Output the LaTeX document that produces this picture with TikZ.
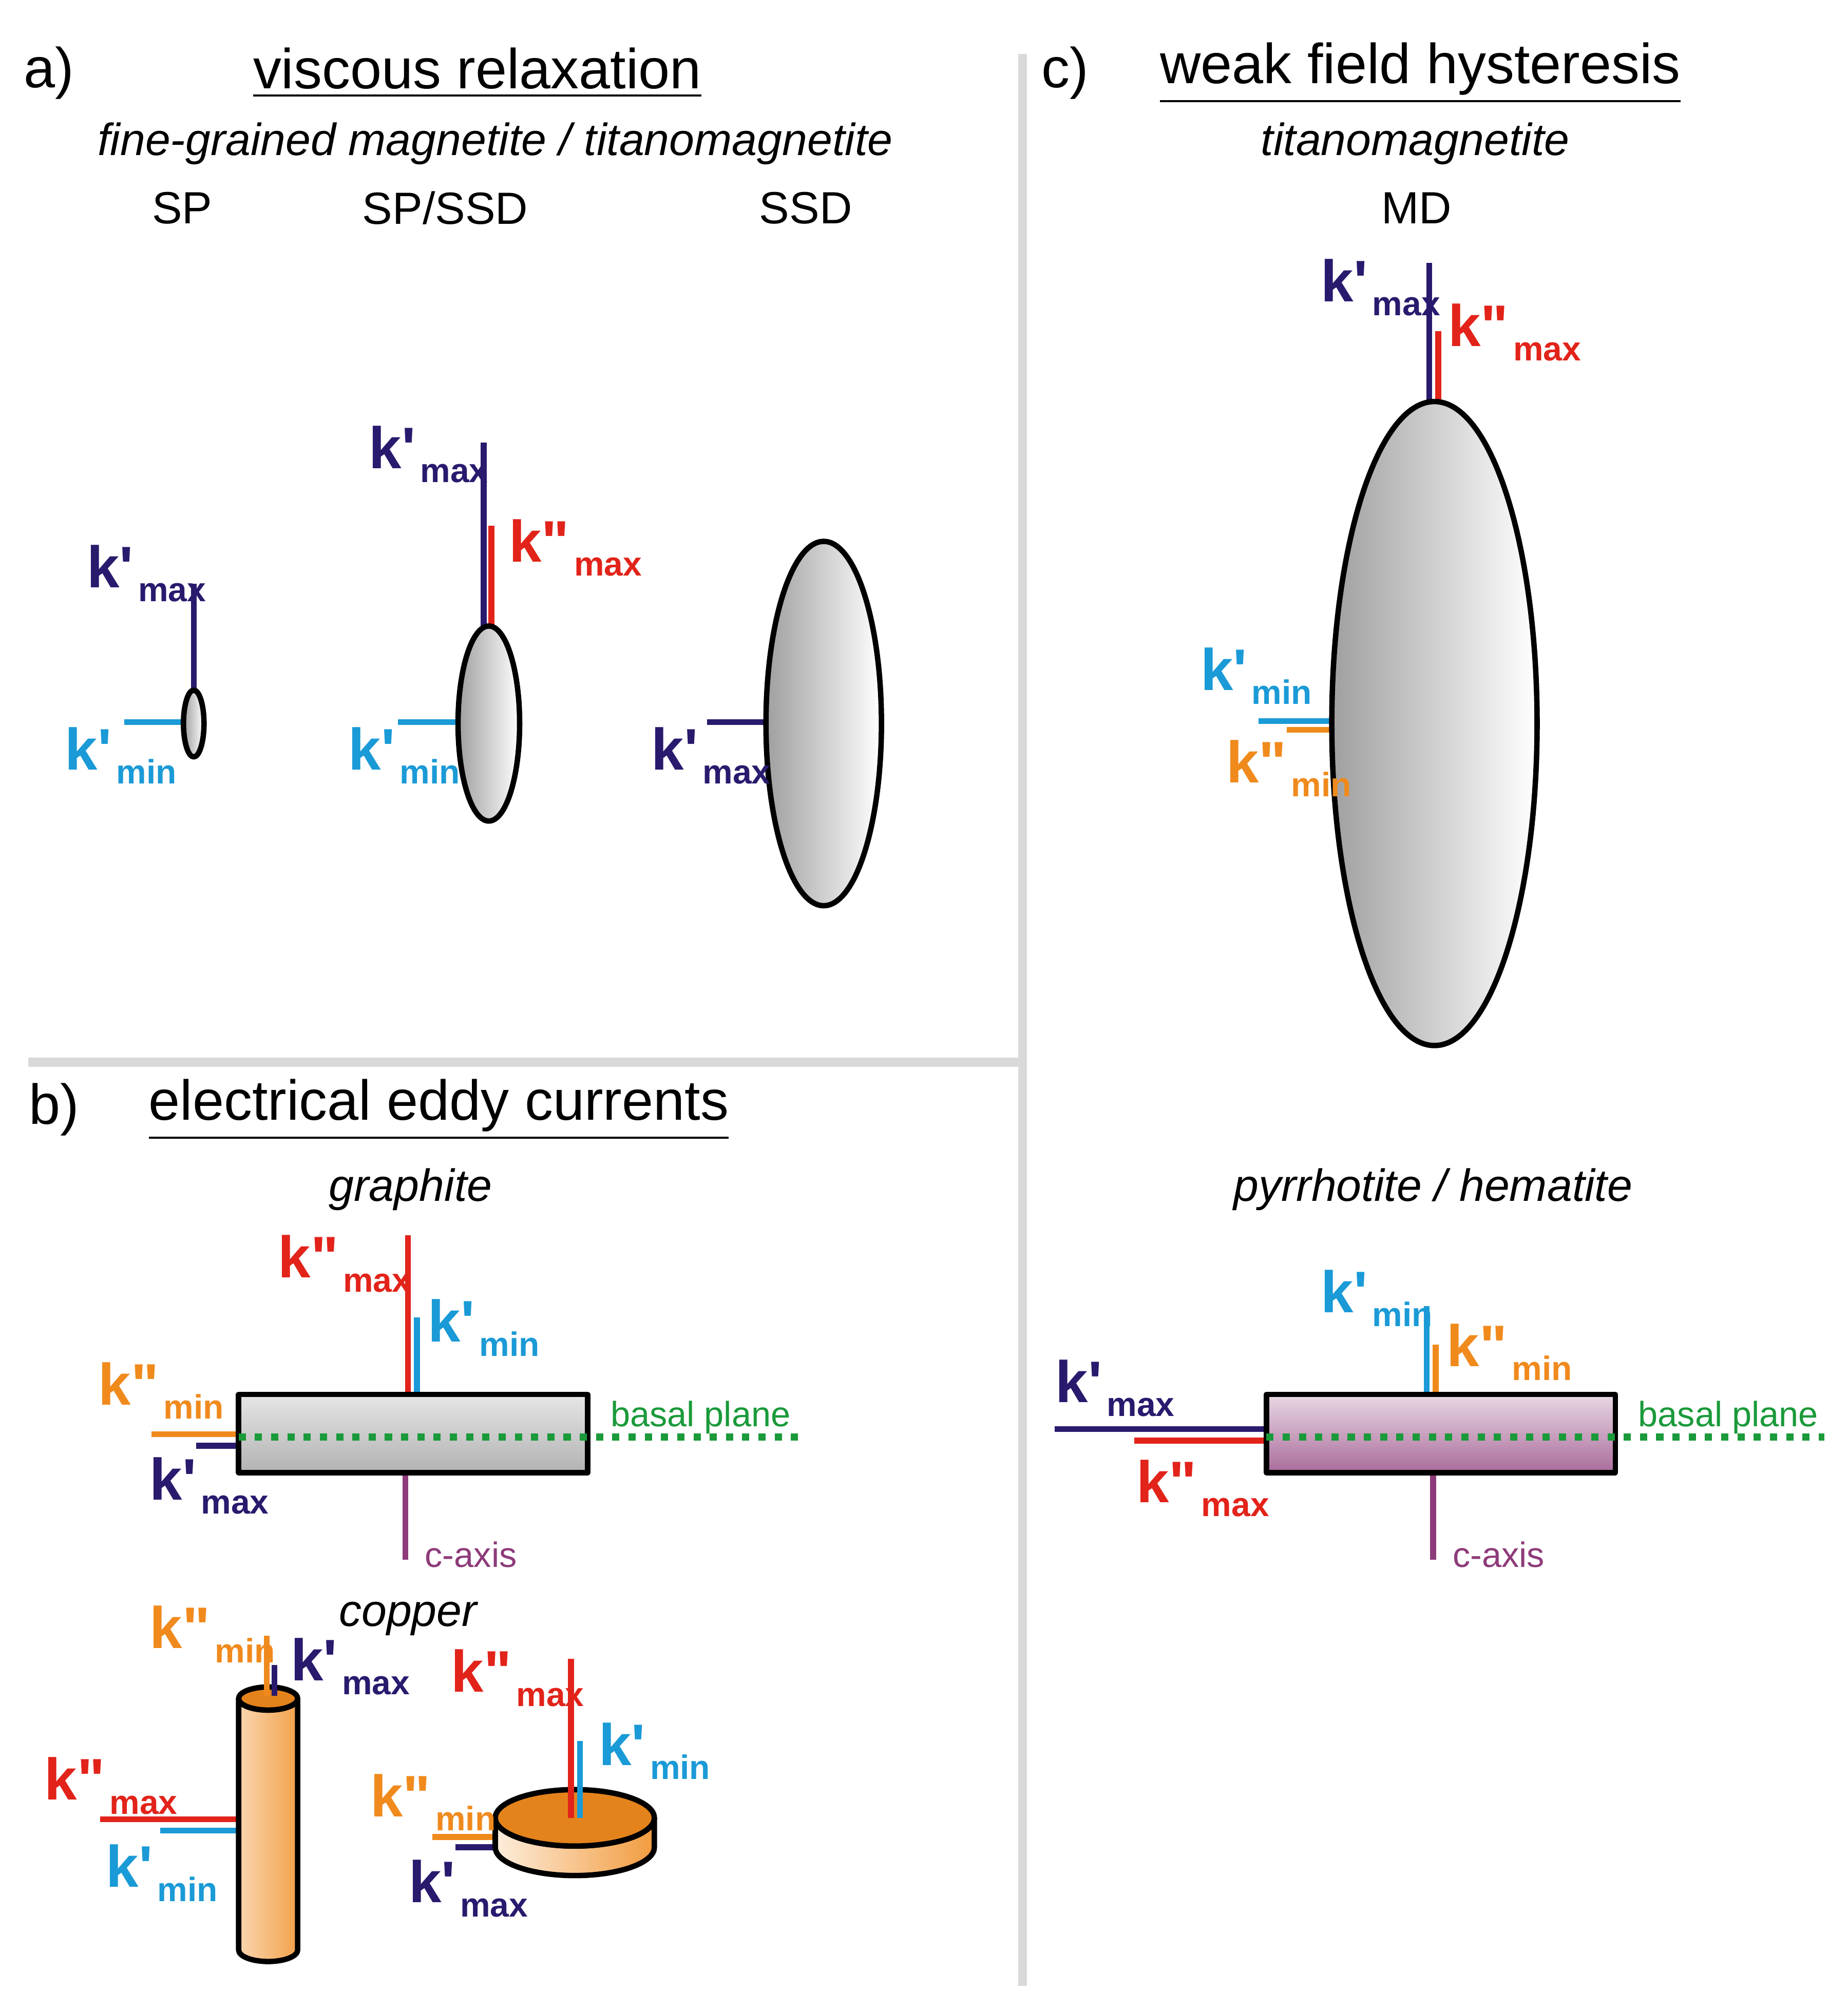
\documentclass[tikz,border=0pt]{standalone}
\usepackage{fontspec}
\setmainfont{Liberation Sans}
\begin{document}
\definecolor{kd}{HTML}{2A1A6E}\definecolor{kr}{HTML}{E2231A}\definecolor{kb}{HTML}{1A9AD6}
\definecolor{ko}{HTML}{F08A1D}\definecolor{kg}{HTML}{1A9A3A}\definecolor{kp}{HTML}{8E3B7A}
\newcommand{\K}[5]{\node[anchor=base west,inner sep=0pt,text=#5,font=\fontsize{13}{13}\selectfont\bfseries] (#1) at (#2) {k#3\hspace{0.08em}\raisebox{-0.24em}{\fontsize{7.5}{8}\selectfont #4}};}
\newcommand{\Pa}{\textquotesingle}\newcommand{\PP}{\textquotedbl}
\begin{tikzpicture}[x=0.01cm,y=-0.01cm,
 ttl/.style={font=\fontsize{12.5}{13}\selectfont},
 sub/.style={font=\fontsize{10}{11}\selectfont\itshape},
 cls/.style={font=\fontsize{10}{11}\selectfont},
 sml/.style={font=\fontsize{7.8}{8}\selectfont},
 ax/.style={line width=1.3pt},
 sh/.style={line width=1.2pt,draw=black,line join=round}]
\useasboundingbox (0,0) rectangle (1440,1552);
\draw[line width=2pt,gray!30] (797,42) -- (797,1548);
\draw[line width=2pt,gray!30] (22,828) -- (797,828);
% a
\node[ttl] (la) at (38,57) {a)};
\node[ttl] (ta) at (372,57) {\underline{viscous relaxation}};
\node[sub] (sa) at (386,112) {fine-grained magnetite / titanomagnetite};
\node[cls] (n1) at (142,162) {SP};
\node[cls] (n2) at (347,162) {SP/SSD};
\node[cls] (n3) at (628,162) {SSD};
% SP
\draw[ax,kd] (151,538) -- (151,455);
\draw[ax,kb] (97,563) -- (143,563);
\draw[sh,left color=gray!75,right color=white] (151,564) ellipse (8 and 26);
\K{a1}{67,458}{\Pa}{max}{kd}
\K{a2}{50,600}{\Pa}{min}{kb}
% SP/SSD
\draw[ax,kd] (377,490) -- (377,345);
\draw[ax,kr] (383,490) -- (383,410);
\draw[ax,kb] (310,563) -- (357,563);
\draw[sh,left color=gray!75,right color=white] (381,564) ellipse (24 and 76);
\K{a3}{287,365}{\Pa}{max}{kd}
\K{a4}{396,438}{\PP}{max}{kr}
\K{a5}{271,600}{\Pa}{min}{kb}
% SSD
\draw[ax,kd] (551,563) -- (598,563);
\draw[sh,left color=gray!75,right color=white] (642,564) ellipse (45 and 142);
\K{a6}{507,600}{\Pa}{max}{kd}
% c
\node[ttl] (lc) at (830,57) {c)};
\node[ttl] (tc) at (1107,57) {\underline{weak field hysteresis}};
\node[sub] (sc) at (1103,112) {titanomagnetite};
\node[cls] (n4) at (1104,162) {MD};
\draw[ax,kd] (1114,315) -- (1114,205);
\draw[ax,kr] (1121,315) -- (1121,258);
\draw[ax,kb] (981,562) -- (1040,562);
\draw[ax,ko] (1003,569) -- (1040,569);
\draw[sh,left color=gray!75,right color=white] (1118,564) ellipse (80 and 251);
\K{c5}{1029,235}{\Pa}{max}{kd}
\K{c6}{1128,270}{\PP}{max}{kr}
\K{c7}{935,538}{\Pa}{min}{kb}
\K{c8}{955,610}{\PP}{min}{ko}
% b
\node[ttl] (lb) at (42,865) {b)};
\node[ttl] (tb) at (342,865) {\underline{electrical eddy currents}};
\node[sub] (sb) at (320,927) {graphite};
\draw[ax,kr] (318,963) -- (318,1087);
\draw[ax,kb] (325,1027) -- (325,1087);
\draw[ax,ko] (118,1118) -- (186,1118);
\draw[ax,kd] (153,1127) -- (186,1127);
\draw[ax,kp] (316,1148) -- (316,1216);
\draw[sh,top color=gray!20,bottom color=gray!60] (186,1087) rectangle (458,1148);
\draw[line width=1.6pt,kg,dotted] (186,1120) -- (622,1120);
\node[sml,text=kg] (bp1) at (546,1105) {basal plane};
\node[sml,text=kp] (ca1) at (367,1212) {c-axis};
\K{b1}{216,996}{\PP}{max}{kr}
\K{b2}{333,1046}{\Pa}{min}{kb}
\K{b3}{76,1095}{\PP}{min}{ko}
\K{b4}{116,1169}{\Pa}{max}{kd}
\node[sub] (sd) at (318,1262) {copper};
% cylinder
\draw[ax,kr] (78,1418) -- (186,1418);
\draw[ax,kb] (125,1427) -- (186,1427);
\draw[sh,left color=ko!35,right color=ko!80] (186,1324) -- (186,1520) arc (180:0:23 and 9) -- (232,1324) arc (0:180:23 and 9) -- cycle;
\draw[sh,fill=ko!95!black] (209,1324) ellipse (23 and 9);
\draw[ax,ko] (208,1275) -- (208,1322);
\draw[ax,kd] (214,1298) -- (214,1322);
\K{b5}{116,1285}{\PP}{min}{ko}
\K{b6}{226,1310}{\Pa}{max}{kd}
\K{b7}{34,1403}{\PP}{max}{kr}
\K{b8}{82,1471}{\Pa}{min}{kb}
% disk
\draw[ax,ko] (337,1432) -- (386,1432);
\draw[ax,kd] (355,1440) -- (386,1440);
\draw[sh,left color=ko!15,right color=ko!85] (386,1417) -- (386,1440) arc (180:0:62 and 22) -- (510,1417) arc (0:180:62 and 22) -- cycle;
\draw[sh,fill=ko!95!black] (448,1417) ellipse (62 and 22);
\draw[ax,kr] (445,1293) -- (445,1417);
\draw[ax,kb] (452,1357) -- (452,1417);
\K{b9}{351,1319}{\PP}{max}{kr}
\K{b10}{466,1376}{\Pa}{min}{kb}
\K{b11}{288,1416}{\PP}{min}{ko}
\K{b12}{318,1483}{\Pa}{max}{kd}
% pyrrhotite
\node[sub] (se) at (1117,927) {pyrrhotite / hematite};
\draw[ax,kb] (1112,1018) -- (1112,1087);
\draw[ax,ko] (1119,1048) -- (1119,1087);
\draw[ax,kd] (822,1114) -- (987,1114);
\draw[ax,kr] (884,1123) -- (987,1123);
\draw[ax,kp] (1117,1148) -- (1117,1216);
\draw[sh,top color=kp!20,bottom color=kp!75] (987,1087) rectangle (1259,1148);
\draw[line width=1.6pt,kg,dotted] (987,1120) -- (1422,1120);
\node[sml,text=kg] (bp2) at (1347,1105) {basal plane};
\node[sml,text=kp] (ca2) at (1168,1212) {c-axis};
\K{c1}{1029,1023}{\Pa}{min}{kb}
\K{c2}{1127,1065}{\PP}{min}{ko}
\K{c3}{822,1093}{\Pa}{max}{kd}
\K{c4}{885,1171}{\PP}{max}{kr}
\end{tikzpicture}
\end{document}
